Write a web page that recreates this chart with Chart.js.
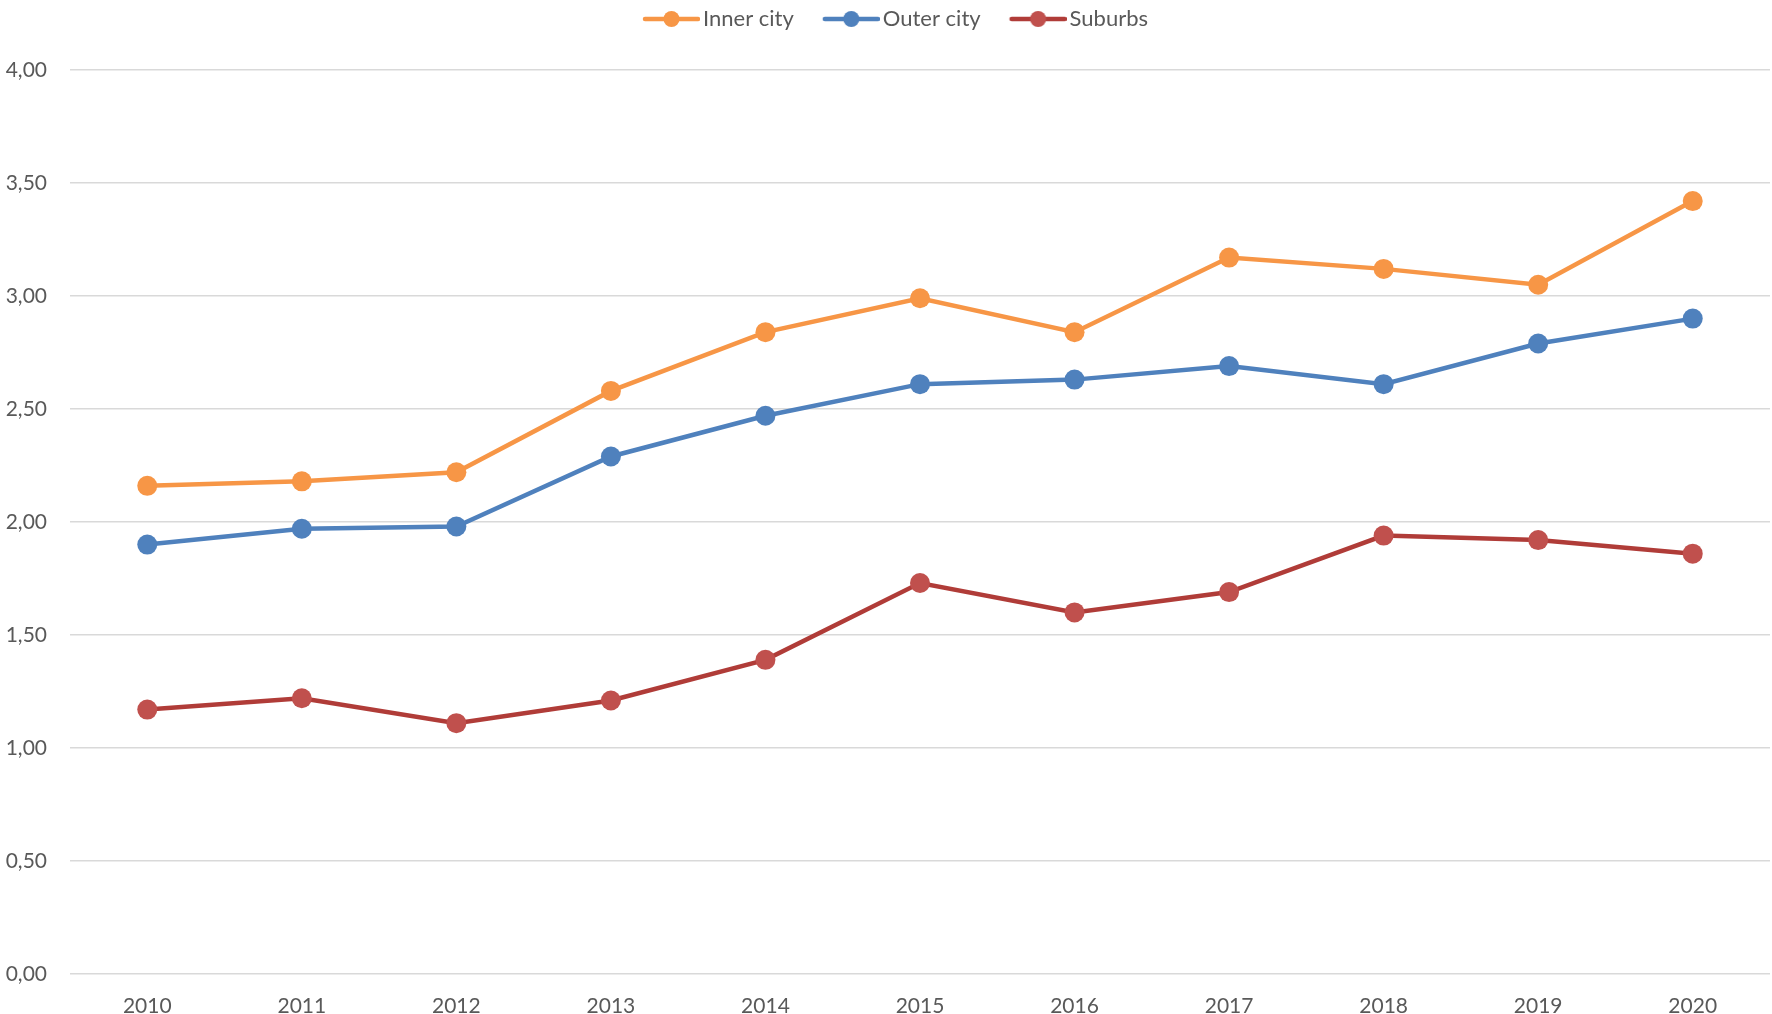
<!DOCTYPE html>
<html>
<head>
<meta charset="utf-8">
<script src="https://cdn.jsdelivr.net/npm/chart.js@4.4.1/dist/chart.umd.min.js"></script>
<style>
  html, body { margin: 0; padding: 0; background: #ffffff; overflow: hidden; }
  #c { display: block; width: 1772px; height: 1014px; }
</style>
</head>
<body>
<canvas id="c" width="1772" height="1014"></canvas>
<script>
const years = ['2010','2011','2012','2013','2014','2015','2016','2017','2018','2019','2020'];
const innerCity = [2.16, 2.18, 2.22, 2.58, 2.84, 2.99, 2.84, 3.17, 3.12, 3.05, 3.42];
const outerCity = [1.90, 1.97, 1.98, 2.29, 2.47, 2.61, 2.63, 2.69, 2.61, 2.79, 2.90];
const suburbs   = [1.17, 1.22, 1.11, 1.21, 1.39, 1.73, 1.60, 1.69, 1.94, 1.92, 1.86];
const yTickValues = [0, 0.5, 1, 1.5, 2, 2.5, 3, 3.5, 4];
const seriesNames = ['Inner city', 'Outer city', 'Suburbs'];

const lineColors   = ['#F79646', '#4F81BD', '#B03C38'];
const markerColors = ['#F79646', '#4F81BD', '#C0504D'];

function legendIcon(lineColor, markerColor) {
  const cv = document.createElement('canvas');
  cv.width = 86; cv.height = 20;
  const g = cv.getContext('2d');
  g.strokeStyle = lineColor; g.lineWidth = 4.5; g.lineCap = 'round';
  g.beginPath(); g.moveTo(31, 10); g.lineTo(84, 10); g.stroke();
  g.fillStyle = markerColor;
  g.beginPath(); g.arc(57.5, 10, 8, 0, Math.PI * 2); g.fill();
  return cv;
}
const icons = seriesNames.map((n, i) => legendIcon(lineColors[i], markerColors[i]));

Chart.defaults.font.family = 'Lato';
Chart.defaults.color = '#595959';

const seriesData = [innerCity, outerCity, suburbs];
const datasets = seriesNames.map((name, i) => ({
  label: name,
  data: seriesData[i],
  borderColor: lineColors[i],
  backgroundColor: markerColors[i],
  pointBackgroundColor: markerColors[i],
  pointBorderColor: markerColors[i],
  pointBorderWidth: 0,
  pointRadius: 10,
  pointHoverRadius: 10,
  pointStyle: 'circle',
  borderWidth: 4.5,
  tension: 0,
  fill: false,
  clip: false
}));

const legendSpacer = {
  id: 'legendSpacer',
  beforeLayout(chart) {
    const lg = chart.legend;
    if (lg && !lg._patched) {
      const orig = lg.fit.bind(lg);
      lg.fit = function () { orig(); this.height += 30; };
      lg._patched = true;
    }
  }
};

new Chart(document.getElementById('c'), {
  type: 'line',
  data: { labels: years, datasets: datasets },
  plugins: [legendSpacer],
  options: {
    responsive: false,
    maintainAspectRatio: false,
    devicePixelRatio: 1,
    animation: false,
    layout: { autoPadding: false, padding: { left: 0, right: 2, top: 0, bottom: 0 } },
    plugins: {
      tooltip: { enabled: false },
      legend: {
        position: 'top',
        labels: {
          usePointStyle: true,
          pointStyleWidth: 70,
          padding: 8,
          color: '#595959',
          font: { size: 22 },
          generateLabels(chart) {
            return chart.data.datasets.map((ds, i) => ({
              text: ds.label,
              pointStyle: icons[i],
              fillStyle: markerColors[i],
              strokeStyle: lineColors[i],
              lineWidth: 0,
              hidden: false,
              datasetIndex: i,
              fontColor: '#595959'
            }));
          }
        }
      }
    },
    scales: {
      x: {
        type: 'category',
        offset: true,
        grid: { display: false, drawTicks: false },
        border: { display: false },
        ticks: { padding: 20, color: '#595959', font: { size: 21 }, maxRotation: 0 },
        afterFit(scale) { scale.height = 40; }
      },
      y: {
        min: 0, max: 4,
        afterBuildTicks(scale) { scale.ticks = yTickValues.map(v => ({ value: v })); },
        grid: { color: '#D9D9D9', lineWidth: 1.5, drawTicks: false },
        border: { display: false },
        ticks: {
          padding: 23,
          color: '#595959',
          font: { size: 21 },
          callback: (v) => Number(v).toFixed(2).replace('.', ',')
        },
        afterFit(scale) { scale.width = 70; }
      }
    }
  }
});
</script>
</body>
</html>
